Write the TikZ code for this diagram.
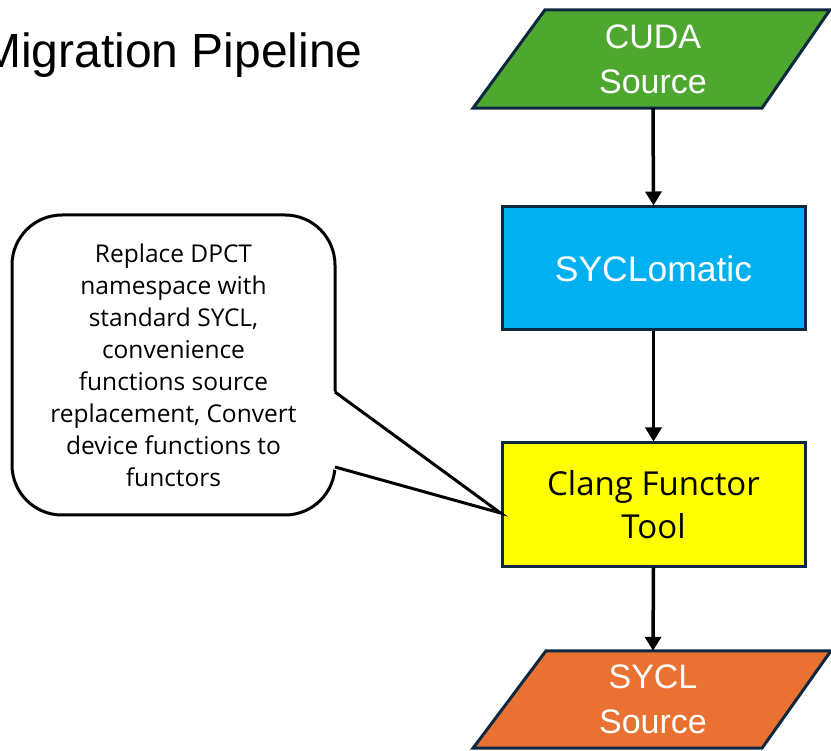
\documentclass[tikz,border=0pt]{standalone}
\usepackage{fontspec}
\setmainfont{Liberation Sans}
\newfontfamily\bodyfont{Open Sans}
\usetikzlibrary{arrows.meta,calc,backgrounds}
\definecolor{cudagreen}{HTML}{4EA72E}
\definecolor{syblue}{HTML}{00B0F0}
\definecolor{clangyellow}{HTML}{FFFF00}
\definecolor{syclorange}{HTML}{E97132}
\definecolor{edgenavy}{HTML}{0E2841}
\tikzset{
  para/.style={draw=edgenavy, line width=3pt, line join=miter},
  procbox/.style={draw=edgenavy, line width=3pt, minimum width=303pt, minimum height=123pt, inner sep=0pt},
  paranode/.style={minimum width=285pt, minimum height=98pt, inner sep=0pt, align=center, text=white,
    font=\fontsize{34}{45}\selectfont},
  arr/.style={line width=3.5pt, -{Triangle[width=16pt,length=14pt]}},
  callbox/.style={draw=black, fill=white, line width=3pt, rounded corners=50pt, outer sep=0pt,
    minimum width=323pt, minimum height=300pt, inner sep=0pt, align=center,
    font=\bodyfont\fontsize{24.5}{32}\selectfont},
}
\begin{document}
\begin{tikzpicture}[x=1pt,y=-1pt]
\useasboundingbox (0,0) rectangle (831,751);

\node[anchor=base west, inner sep=0pt, font=\fontsize{48}{56}\selectfont] (title) at (-19,68) {Migration Pipeline};

\node[paranode] (cuda) at (653,59) {CUDA\\Source};
\node[procbox, fill=syblue, text=white, font=\fontsize{35.5}{40}\selectfont] (syclomatic) at (653.5,268.5) {SYCLomatic};
\node[procbox, fill=clangyellow, text=black, align=center, font=\bodyfont\fontsize{33}{43}\selectfont] (clang) at (653.5,504.5) {Clang Functor\\Tool};
\node[paranode, minimum height=97pt] (syclsrc) at (653,699.5) {SYCL\\Source};

\begin{scope}[on background layer]
\fill[white] (0,0) rectangle (831,751);
\draw[para, fill=cudagreen] ($(cuda.north)+(-108,0)$) -- ($(cuda.north)+(177,0)$) -- ($(cuda.south)+(109,0)$) -- ($(cuda.south)+(-180,0)$) -- cycle;
\draw[para, fill=syclorange] ($(syclsrc.north)+(-107,0)$) -- ($(syclsrc.north)+(178,0)$) -- ($(syclsrc.south)+(109,0)$) -- ($(syclsrc.south)+(-180,0)$) -- cycle;
\end{scope}

\draw[arr] (cuda.south) -- (syclomatic.north);
\draw[arr] (syclomatic.south) -- (clang.north);
\draw[arr] (clang.south) -- (syclsrc.north);

\node[callbox] (callout) at (173.5,365) {Replace DPCT\\namespace with\\standard SYCL,\\convenience\\functions source\\replacement, Convert\\device functions to\\functors};
\coordinate (tip) at ($(clang.west)+(0,8.5)$);
\fill[white] ($(callout.east)+(-3,25)$) -- (tip) -- ($(callout.east)+(-3,104)$) -- cycle;
\draw[line width=3pt, line join=miter] ($(callout.east)+(0,27)$) -- (tip) -- ($(callout.east)+(0,102)$);
\end{tikzpicture}
\end{document}
